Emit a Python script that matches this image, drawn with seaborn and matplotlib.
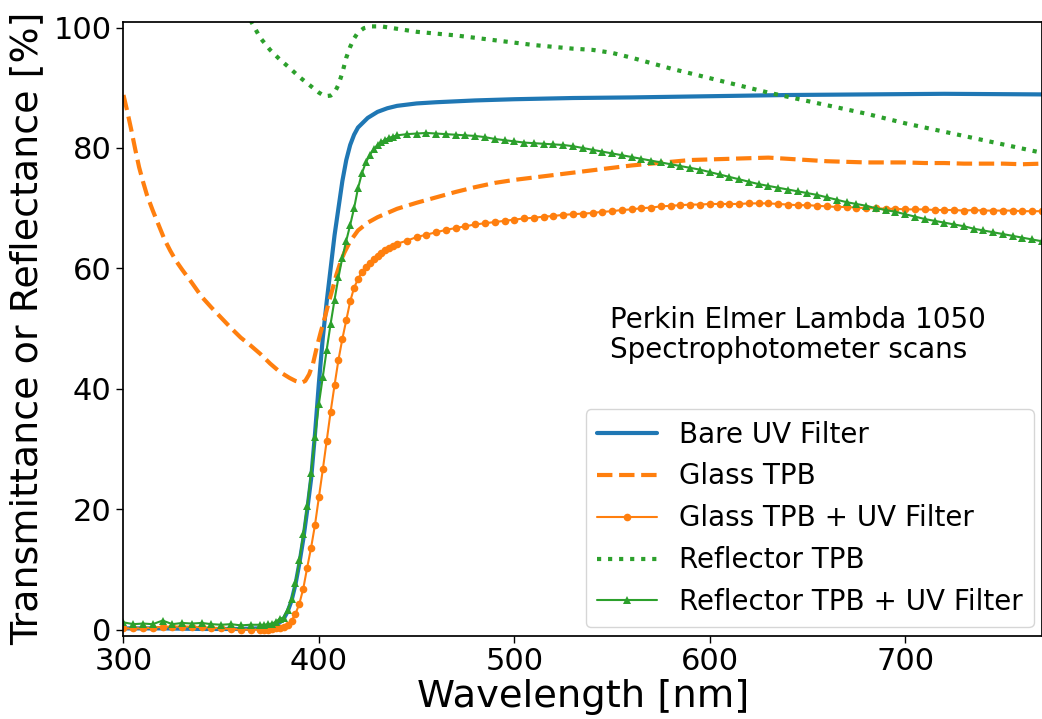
import numpy as np
import pandas as pd
import matplotlib
matplotlib.use("Agg")
import matplotlib.pyplot as plt
import seaborn as sns

# --- data (wavelength in nm, value in %) ---

# sampling used for the two marker series
wl_fine = list(range(300, 371, 5)) + list(range(372, 441, 2)) + list(range(445, 771, 5))

bare_wl = [300, 320, 340, 360, 370, 376, 380, 382, 384, 386, 388, 390, 392, 394,
           396, 398, 400, 402, 404, 406, 408, 410, 412, 414, 416, 418, 420, 425,
           430, 435, 440, 450, 460, 480, 500, 530, 560, 600, 640, 680, 720, 770]
bare_uv = [0.2, 0.2, 0.1, 0.1, 0.2, 0.5, 1.2, 1.8, 3.0, 4.8, 7.5, 11.0, 15.0, 19.8,
           25.0, 32.5, 41.0, 48.5, 54.5, 60.0, 65.5, 70.0, 74.5, 78.0, 80.5, 82.2, 83.4, 85.0,
           86.0, 86.6, 87.0, 87.4, 87.6, 87.9, 88.1, 88.3, 88.4, 88.6, 88.8, 88.9, 89.0, 88.9]

glass_wl = [300, 302, 304, 306, 308, 310, 312, 315, 318, 321, 324, 327, 330, 335,
            340, 345, 350, 355, 360, 365, 370, 375, 380, 385, 388, 391, 393, 395,
            397, 399, 401, 403, 405, 407, 409, 411, 413, 416, 420, 425, 430, 440,
            450, 460, 470, 480, 490, 500, 510, 520, 530, 540, 550, 560, 570, 580,
            590, 600, 610, 620, 630, 640, 650, 660, 670, 680, 690, 700, 710, 720,
            730, 740, 750, 760, 770]
glass_tpb = [88.8, 86.0, 83.0, 79.8, 76.8, 74.4, 72.2, 69.6, 67.2, 64.8, 62.9, 61.2, 59.8, 57.6,
             55.3, 53.5, 51.8, 50.1, 48.5, 47.2, 45.8, 44.2, 42.8, 41.8, 41.3, 41.0, 41.3, 42.4,
             44.2, 47.0, 49.5, 51.8, 54.3, 56.6, 59.0, 61.0, 62.6, 64.5, 66.3, 67.6, 68.5, 69.9,
             70.9, 71.8, 72.7, 73.5, 74.2, 74.7, 75.1, 75.5, 75.9, 76.3, 76.7, 77.1, 77.4, 77.7,
             78.0, 78.1, 78.2, 78.3, 78.4, 78.2, 78.0, 77.8, 77.7, 77.6, 77.6, 77.6, 77.5, 77.5,
             77.4, 77.4, 77.4, 77.3, 77.4]

glass_tpb_uv = [
    # 300-370 step 5
    0.2, 0.2, 0.2, 0.3, 0.5, 0.5, 0.5, 0.5, 0.4, 0.3, 0.2, 0.1, 0.0, 0.0, 0.0,
    # 372-440 step 2
    0.0, 0.0, 0.1, 0.2, 0.3, 0.4, 0.8, 1.5, 2.6, 4.3, 6.8, 10.3, 13.6, 17.4, 22.0,
    26.6, 31.4, 36.2, 40.6, 44.8, 48.3, 51.4, 54.5, 56.8, 58.2, 59.4, 60.2, 60.9,
    61.5, 62.1, 62.6, 63.0, 63.4, 63.8, 64.1,
    # 445-770 step 5
    64.6, 65.2, 65.6, 66.0, 66.4, 66.7, 67.0, 67.3, 67.5, 67.7, 67.9, 68.1, 68.3,
    68.4, 68.6, 68.7, 68.9, 69.0, 69.1, 69.2, 69.4, 69.5, 69.7, 69.8, 70.0, 70.1,
    70.3, 70.4, 70.5, 70.6, 70.6, 70.7, 70.7, 70.7, 70.7, 70.8, 70.8, 70.8, 70.7,
    70.6, 70.5, 70.5, 70.4, 70.3, 70.2, 70.2, 70.1, 70.0, 70.0, 69.9, 69.9, 69.8,
    69.8, 69.8, 69.7, 69.7, 69.7, 69.6, 69.7, 69.6, 69.6, 69.6, 69.6, 69.5, 69.5, 69.5]

refl_wl = [360, 365, 370, 375, 380, 385, 390, 395, 400, 403, 406, 408, 410, 412,
           414, 416, 418, 420, 423, 427, 432, 440, 450, 460, 470, 480, 490, 500,
           510, 520, 530, 540, 550, 560, 570, 580, 590, 600, 610, 620, 630, 640,
           650, 660, 670, 680, 690, 700, 710, 720, 730, 740, 750, 760, 770]
refl_tpb = [104.5, 101.2, 98.3, 96.3, 94.7, 93.3, 91.8, 90.5, 89.2, 88.6, 88.7, 89.2, 90.5, 92.5,
            95.0, 96.8, 98.2, 99.2, 99.9, 100.2, 100.2, 99.8, 99.3, 99.0, 98.7, 98.3, 97.9, 97.5,
            97.1, 96.8, 96.5, 96.3, 95.8, 95.0, 94.1, 93.2, 92.4, 91.6, 90.8, 90.0, 89.2, 88.5,
            87.8, 87.1, 86.4, 85.7, 84.9, 84.1, 83.4, 82.7, 82.0, 81.3, 80.6, 79.9, 79.2]

refl_tpb_uv = [
    # 300-370 step 5
    1.2, 0.9, 1.0, 0.9, 1.5, 0.9, 1.1, 1.0, 1.1, 0.9, 0.8, 0.9, 0.7, 0.8, 0.8,
    # 372-440 step 2
    0.8, 0.9, 1.0, 1.3, 1.8, 2.0, 3.3, 5.0, 7.7, 11.5, 15.8, 20.5, 26.0, 32.0, 37.5,
    42.0, 46.5, 50.8, 54.8, 58.5, 61.8, 64.6, 67.2, 70.0, 73.3, 75.8, 77.6, 78.8,
    79.8, 80.5, 81.0, 81.4, 81.7, 81.9, 82.1,
    # 445-770 step 5
    82.3, 82.4, 82.5, 82.4, 82.3, 82.2, 82.1, 82.0, 81.8, 81.5, 81.3, 81.1, 80.9,
    80.8, 80.7, 80.6, 80.5, 80.3, 80.0, 79.7, 79.4, 79.1, 78.8, 78.5, 78.2, 77.9,
    77.6, 77.3, 77.0, 76.7, 76.4, 76.0, 75.6, 75.2, 74.8, 74.4, 74.0, 73.7, 73.4,
    73.1, 72.8, 72.5, 72.2, 71.8, 71.4, 71.0, 70.7, 70.4, 70.0, 69.7, 69.4, 69.0,
    68.6, 68.2, 67.9, 67.6, 67.3, 67.0, 66.6, 66.3, 66.0, 65.7, 65.4, 65.1, 64.8, 64.5]

blue, orange, green = "#1f77b4", "#ff7f0e", "#2ca02c"

sns.set_theme(style="ticks")
plt.rcParams["font.family"] = ["DejaVu Sans"]
plt.rcParams.update({"text.color": "black", "axes.labelcolor": "black",
                     "xtick.color": "black", "ytick.color": "black",
                     "axes.edgecolor": "black"})

fig = plt.figure(figsize=(10.42, 7.19), dpi=100)
ax = fig.add_axes([0.1185, 0.116, 0.8815, 0.854])

sns.lineplot(x=bare_wl, y=bare_uv, ax=ax, color=blue, linewidth=3,
             label="Bare UV Filter")
sns.lineplot(x=glass_wl, y=glass_tpb, ax=ax, color=orange, linewidth=3,
             linestyle="--", label="Glass TPB")
sns.lineplot(x=wl_fine, y=glass_tpb_uv, ax=ax, color=orange, linewidth=1.5,
             marker="o", markersize=5.5, markeredgecolor=orange, markeredgewidth=0,
             label="Glass TPB + UV Filter")
sns.lineplot(x=refl_wl, y=refl_tpb, ax=ax, color=green, linewidth=3,
             linestyle=":", label="Reflector TPB")
sns.lineplot(x=wl_fine, y=refl_tpb_uv, ax=ax, color=green, linewidth=1.5,
             marker="^", markersize=6, markeredgecolor=green, markeredgewidth=0,
             label="Reflector TPB + UV Filter")

ax.set_xlim(300, 770)
ax.set_ylim(-1, 101)
ax.set_xticks([300, 400, 500, 600, 700])
ax.set_yticks([0, 20, 40, 60, 80, 100])
ax.tick_params(labelsize=22, length=5, width=1)
ax.set_xlabel("Wavelength [nm]", fontsize=27.7, labelpad=2)
ax.set_ylabel("Transmittance or Reflectance [%]", fontsize=27.4, labelpad=6)

ax.text(549, 53.8, "Perkin Elmer Lambda 1050\nSpectrophotometer scans",
        fontsize=20, va="top", ha="left", linespacing=1.1)

ax.legend(loc="lower right", fontsize=20, handlelength=2.15, framealpha=0.8,
          borderaxespad=0.3)

fig.savefig("out.png", dpi=100)
